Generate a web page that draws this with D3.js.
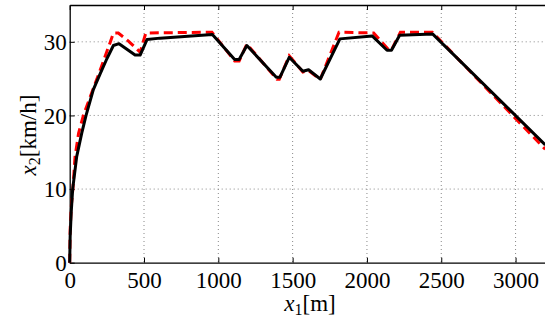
<!DOCTYPE html>
<html><head><meta charset="utf-8">
<script src="https://cdn.jsdelivr.net/npm/d3@7"></script>
<style>body{margin:0;background:#fff}svg{display:block}</style>
</head><body>
<script>
const xTicks = [0, 500, 1000, 1500, 2000, 2500, 3000];
const yTicks = [0, 10, 20, 30];

const distBlack  = [0, 3, 10, 20, 47, 81, 110, 159, 204, 250, 294, 332, 440, 474, 520, 608, 960, 1110, 1140, 1192, 1390, 1415, 1477, 1569, 1607, 1686, 1818, 2035, 2135, 2165, 2220, 2443, 3200];
const speedBlack = [0, 3.5, 6.8, 10, 14.4, 17.6, 20, 23.5, 25.6, 27.7, 29.5, 29.75, 28.2, 28.2, 30.3, 30.5, 31.0, 27.6, 27.6, 29.5, 25.2, 25.2, 27.9, 26.0, 26.2, 24.95, 30.4, 30.8, 28.85, 28.85, 30.9, 31.05, 16.0];

const distRed  = [0, 3, 12, 22, 36, 60, 92, 132, 204, 271, 294, 327, 395, 474, 512, 957, 1110, 1140, 1192, 1395, 1410, 1477, 1569, 1607, 1686, 1812, 2045, 2147, 2165, 2225, 2440, 3200];
const speedRed = [0, 4.5, 8, 10.2, 14.4, 17.6, 20, 22.2, 26.1, 29.85, 31.2, 31.2, 30.1, 28.6, 31.2, 31.3, 27.4, 27.4, 29.7, 24.9, 24.9, 28.1, 25.9, 26.1, 24.9, 31.3, 31.2, 28.9, 28.9, 31.3, 31.3, 15.4];

const W = 545, H = 320;
const L = 69.7, R = 545.3, T = 5, B = 262.7;
const FONT = '"Liberation Serif", "Times New Roman", serif';

const svg = d3.select("body").append("svg").attr("width", W).attr("height", H);
const x = d3.scaleLinear().domain([0, 3200]).range([L, R]);
const y = d3.scaleLinear().domain([0, 35]).range([B, T]);

// grid
const g = svg.append("g");
g.selectAll("line.gx").data(xTicks.filter(d => d > 0)).join("line")
  .attr("x1", d => x(d)).attr("x2", d => x(d)).attr("y1", T).attr("y2", B)
  .attr("stroke", "#888").attr("stroke-width", 1).attr("stroke-dasharray", "1,3");
g.selectAll("line.gy").data(yTicks.filter(d => d > 0)).join("line")
  .attr("class","gy")
  .attr("x1", L).attr("x2", R).attr("y1", d => y(d)).attr("y2", d => y(d))
  .attr("stroke", "#888").attr("stroke-width", 1).attr("stroke-dasharray", "1,3");

// axes
const xAxisB = d3.axisBottom(x).tickValues(xTicks).tickSizeInner(-5).tickSizeOuter(0).tickFormat(d3.format("d"));
const xAxisT = d3.axisTop(x).tickValues(xTicks).tickSizeInner(-5).tickSizeOuter(0).tickFormat("");
const yAxisL = d3.axisLeft(y).tickValues(yTicks).tickSizeInner(-5).tickSizeOuter(0).tickPadding(3).tickFormat(d3.format("d"));

const ax = svg.append("g").attr("transform", `translate(0,${B})`).call(xAxisB);
const at = svg.append("g").attr("transform", `translate(0,${T})`).call(xAxisT);
const ay = svg.append("g").attr("transform", `translate(${L},0)`).call(yAxisL);
[ax, at, ay].forEach(a => {
  a.attr("font-family", null).attr("font-size", null);
  a.select(".domain").attr("stroke", "#000").attr("stroke-width", 1.3);
  a.selectAll(".tick line").attr("stroke", "#000").attr("stroke-width", 1);
  a.selectAll(".tick text").style("font-family", FONT).style("font-size", "23px").attr("fill", "#000");
});
ax.selectAll(".tick text").attr("y", 25).attr("dy", null);
ay.selectAll(".tick text").attr("dy", "0.34em");

// lines
const lineGen = d3.line().x(d => x(d[0])).y(d => y(d[1]));
const red = distRed.map((d, i) => [d, speedRed[i]]);
const black = distBlack.map((d, i) => [d, speedBlack[i]]);
svg.append("path").datum(red).attr("d", lineGen)
  .attr("fill", "none").attr("stroke", "#ff0000").attr("stroke-width", 3)
  .attr("stroke-dasharray", "9,5");
svg.append("path").datum(black).attr("d", lineGen)
  .attr("fill", "none").attr("stroke", "#000").attr("stroke-width", 3)
  .attr("stroke-linejoin", "round");

// axis labels
const xl = svg.append("text").attr("x", 310).attr("y", 311)
  .attr("text-anchor", "middle").style("font-family", FONT).style("font-size", "23px");
xl.append("tspan").style("font-style", "italic").text("x");
xl.append("tspan").style("font-size", "16px").attr("dy", 4).text("1");
xl.append("tspan").attr("dy", -4).text("[m]");

const yl = svg.append("text").attr("transform", "translate(36,135) rotate(-90)")
  .attr("text-anchor", "middle").style("font-family", FONT).style("font-size", "23px");
yl.append("tspan").style("font-style", "italic").text("x");
yl.append("tspan").style("font-size", "16px").attr("dy", 4).text("2");
yl.append("tspan").attr("dy", -4).text("[km/h]");
</script>
</body></html>
